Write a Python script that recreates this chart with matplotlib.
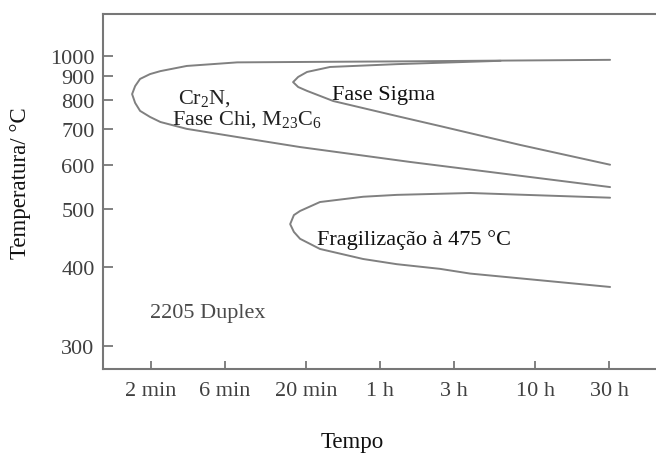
import numpy as np
import matplotlib
matplotlib.use('Agg')
import matplotlib.pyplot as plt
from matplotlib.ticker import NullLocator

plt.rcParams['font.family'] = ['Liberation Serif', 'DejaVu Serif']
plt.rcParams['mathtext.fontset'] = 'custom'
plt.rcParams['mathtext.rm'] = 'Liberation Serif'

# eixo do tempo (minutos) e temperaturas (graus C)
tick_min = [2, 6, 20, 60, 180, 600, 1800]
tick_lbl = ['2 min', '6 min', '20 min', '1 h', '3 h', '10 h', '30 h']
temp_ticks = [300, 400, 500, 600, 700, 800, 900, 1000]

# curva externa: Cr2N, fase chi, M23C6
outer_t = [1830, 360, 80, 18.3, 7.2, 3.4, 2.3, 1.97, 1.7, 1.58, 1.51, 1.58, 1.7, 1.97, 2.3, 3.4, 7.2, 11.2, 18.3, 94, 481, 1830]
outer_T = [980, 976, 972, 969, 967, 949, 924, 910, 888, 857, 824, 790, 761, 740, 723, 701, 676, 662, 647, 607, 573, 547]

# fase sigma
sigma_t = [360, 77, 28.6, 20.3, 17.8, 16.5, 17.8, 20.3, 30, 77, 146, 481, 1830]
sigma_T = [975, 958, 944, 920, 897, 874, 853, 837, 797, 743, 710, 653, 600]

# fragilizacao a 475 C
frag_t = [1830, 229, 77, 46.7, 24.6, 18.3, 16.7, 15.8, 16.7, 18.3, 24.6, 46.7, 77, 146, 229, 1830]
frag_T = [524, 534, 530, 526, 515, 497, 489, 472, 458, 446, 429, 413, 405, 398, 391, 372]


# escala de temperatura em 1/T (Kelvin)
def fwd(t):
    return -1.0 / (np.asarray(t, dtype=float) + 273.0)


def inv(u):
    return -1.0 / np.asarray(u, dtype=float) - 273.0


fig = plt.figure(figsize=(6.56, 4.56), dpi=100)
ax = fig.add_axes([0.157, 0.189, 0.843, 0.778])

ax.set_xscale('log')
ax.set_yscale('function', functions=(fwd, inv))

line_kw = dict(color='#808080', lw=1.4, solid_capstyle='round', solid_joinstyle='round')
ax.plot(outer_t, outer_T, **line_kw)
ax.plot(sigma_t, sigma_T, **line_kw)
ax.plot(frag_t, frag_T, **line_kw)

ax.set_xlim(0.98, 3620)
ax.set_ylim(276, 1274)

ax.set_xticks(tick_min)
ax.set_xticklabels(tick_lbl)
ax.set_yticks(temp_ticks)
ax.set_yticklabels([str(v) for v in temp_ticks])
ax.xaxis.set_minor_locator(NullLocator())
ax.yaxis.set_minor_locator(NullLocator())

ax.tick_params(axis='x', direction='in', length=6, width=1.3, color='#777777',
               labelsize=16, labelcolor='#404040', pad=9)
ax.tick_params(axis='y', direction='in', length=7.5, width=1.3, color='#777777',
               labelsize=16, labelcolor='#404040', pad=6)

for side in ['left', 'top', 'bottom']:
    ax.spines[side].set_color('#777777')
    ax.spines[side].set_linewidth(1.5)
ax.spines['right'].set_visible(False)

ax.set_xlabel('Tempo', fontsize=16.5, color='#111111')
ax.xaxis.set_label_coords(0.45, -0.175)
ax.set_ylabel('Temperatura/ °C', fontsize=16.5, color='#111111')
ax.yaxis.set_label_coords(-0.13, 0.527)

txt = dict(transform=ax.transAxes, ha='left', va='baseline', fontsize=16)
ax.text(0.136, 0.749, r'Cr$_{\mathrm{2}}$N,', color='#222222', **txt)
ax.text(0.125, 0.690, r'Fase Chi, M$_{\mathrm{23}}$C$_{\mathrm{6}}$', color='#222222', **txt)
ax.text(0.414, 0.761, 'Fase Sigma', color='#111111', **txt)
ax.text(0.387, 0.352, 'Fragilização à 475 °C', color='#111111', **txt)
ax.text(0.085, 0.146, '2205 Duplex', color='#4a4a4a', **txt)

fig.savefig('out.png', dpi=100)
